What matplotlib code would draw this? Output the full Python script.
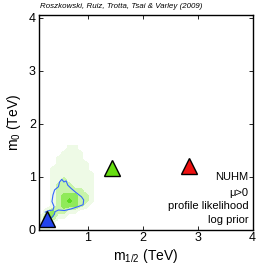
import numpy as np
import matplotlib
matplotlib.use('Agg')
import matplotlib.pyplot as plt
from matplotlib.colors import ListedColormap

plt.rcParams['font.family'] = ['Liberation Sans', 'DejaVu Sans']
plt.rcParams['mathtext.fontset'] = 'custom'
plt.rcParams['mathtext.rm'] = 'Liberation Sans'
plt.rcParams['mathtext.it'] = 'Liberation Sans:italic'

# profile likelihood map, 0.1 TeV cells: x from 0.1 to 1.2, y from 0 to 1.6 (rows bottom -> top)
x_edges = np.arange(0.1, 1.25, 0.1)
y_edges = np.arange(0.0, 1.65, 0.1)
like = np.array([
    [1, 1, 0, 0, 0, 0, 0, 0, 0, 0, 0],  # 0.0-0.1
    [1, 2, 1, 0, 0, 0, 0, 0, 0, 0, 0],  # 0.1-0.2
    [1, 3, 3, 1, 1, 0, 0, 0, 0, 0, 0],  # 0.2-0.3
    [0, 2, 3, 2, 2, 1, 1, 0, 0, 0, 0],  # 0.3-0.4
    [0, 0, 1, 2, 3, 3, 3, 2, 1, 0, 0],  # 0.4-0.5
    [0, 0, 1, 2, 3, 4, 3, 2, 2, 1, 0],  # 0.5-0.6
    [0, 0, 1, 2, 3, 3, 3, 2, 2, 1, 0],  # 0.6-0.7
    [0, 0, 1, 2, 2, 2, 2, 2, 1, 1, 0],  # 0.7-0.8
    [0, 0, 1, 2, 2, 2, 1, 1, 1, 1, 0],  # 0.8-0.9
    [0, 0, 1, 1, 2, 1, 1, 1, 1, 1, 0],  # 0.9-1.0
    [0, 0, 1, 1, 1, 1, 1, 1, 1, 1, 0],  # 1.0-1.1
    [0, 0, 1, 1, 1, 1, 1, 1, 1, 0, 0],  # 1.1-1.2
    [0, 0, 0, 1, 1, 1, 1, 1, 1, 0, 0],  # 1.2-1.3
    [0, 0, 0, 1, 1, 1, 1, 1, 0, 0, 0],  # 1.3-1.4
    [0, 0, 0, 0, 1, 1, 1, 1, 0, 0, 0],  # 1.4-1.5
    [0, 0, 0, 0, 0, 1, 1, 0, 0, 0, 0],  # 1.5-1.6
])

# 68% contour outline
contour_x = [0.22, 0.27, 0.36, 0.38, 0.342, 0.36, 0.39, 0.46, 0.48, 0.52, 0.56, 0.60, 0.63,
             0.69, 0.78, 0.88, 0.92, 0.91, 0.82, 0.69, 0.57, 0.46, 0.40, 0.38, 0.33, 0.28]
contour_y = [0.33, 0.355, 0.37, 0.435, 0.53, 0.654, 0.75, 0.81, 0.90, 0.95, 0.90, 0.92, 0.84,
             0.78, 0.70, 0.62, 0.56, 0.47, 0.435, 0.39, 0.36, 0.37, 0.34, 0.28, 0.22, 0.18]

# benchmark points
bench_x = [0.25, 1.43, 2.84]
bench_y = [0.2, 1.16, 1.2]
bench_colors = ['#2244ee', '#66dd11', '#ee1111']

labels = ['NUHM', '\u03bc>0', 'profile likelihood', 'log prior']

fig = plt.figure(figsize=(2.58, 2.73), dpi=100)
ax = fig.add_axes([0.150, 0.159, 0.829, 0.787])

cmap = ListedColormap(['#ffffff', '#eefae6', '#c8f4aa', '#90ea5a', '#5cdc22'])
ax.imshow(like, cmap=cmap, vmin=-0.5, vmax=4.5, origin='lower', interpolation='bilinear',
          extent=(x_edges[0], x_edges[-1], y_edges[0], y_edges[-1]), aspect='auto', zorder=1)
ax.plot(contour_x, contour_y, color='#3366ff', lw=0.8, zorder=2)

for bx, by, bc in zip(bench_x, bench_y, bench_colors):
    ax.plot(bx, by, marker='^', ms=12, mfc=bc, mec='black', mew=1.0, ls='none',
            zorder=5, clip_on=False)

ys = [1.0, 0.7, 0.44, 0.18]
for t, yy in zip(labels, ys):
    ax.text(3.92, yy, t, ha='right', va='center', fontsize=8)

ax.set_xlim(0.1, 4.0)
ax.set_ylim(0, 4.06)
ax.set_xticks([1, 2, 3, 4])
ax.set_yticks([0, 1, 2, 3, 4])
ax.tick_params(direction='in', length=3, width=0.6, top=True, right=True, labelsize=9, pad=2)
for s in ax.spines.values():
    s.set_linewidth(1.0)

ax.set_xlabel('m$_{1/2}$ (TeV)', fontsize=10, labelpad=2)
ax.set_ylabel('m$_0$ (TeV)', fontsize=10, labelpad=4)

fig.text(0.155, 0.975, 'Roszkowski, Ruiz, Trotta, Tsai & Varley (2009)', fontsize=5.7,
         style='italic', ha='left', va='center')

fig.savefig('out.png', dpi=100)
